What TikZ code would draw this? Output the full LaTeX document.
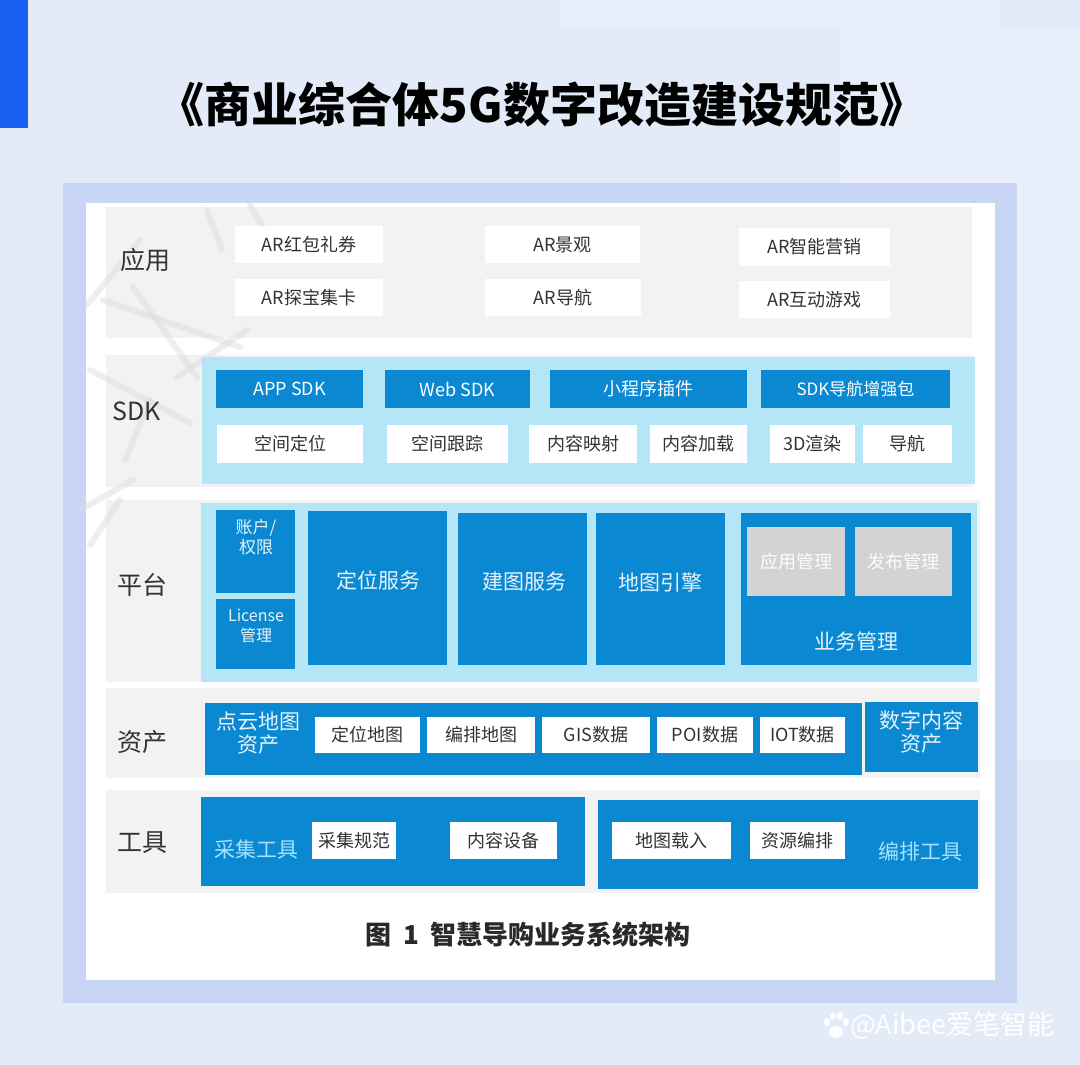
\documentclass[tikz,border=0pt]{standalone}
\usepackage{fontspec}
\setmainfont{Noto Sans CJK SC}
\definecolor{bg}{HTML}{E3EAF8}
\definecolor{bgl}{HTML}{E9EFFA}
\definecolor{bar}{HTML}{1A5EF2}
\definecolor{frame}{HTML}{C8D5F4}
\definecolor{rowg}{HTML}{F2F2F2}
\definecolor{lblue}{HTML}{B5E6F8}
\definecolor{blu}{HTML}{0A88D2}
\definecolor{gbox}{HTML}{D3D3D3}
\definecolor{txt}{HTML}{333333}
\definecolor{cyantxt}{HTML}{A6E2FF}
\definecolor{sketch}{HTML}{DADADA}
% \bx{style}{name}{x1}{y1}{x2}{y2}{text}
\newcommand\bx[7]{\node[#1, minimum width={(#5)-(#3)}, minimum height={(#6)-(#4)}] (#2) at ({((#3)+(#5))/2},{((#4)+(#6))/2}) {#7};}
\begin{document}
\begin{tikzpicture}[x=1pt,y=-1pt,
  box/.style={inner sep=0pt, outer sep=0pt, draw=none},
  rowbox/.style={box, fill=rowg},
  lbbox/.style={box, fill=lblue},
  wbox/.style={box, fill=white, text=txt, font=\fontsize{18}{21}\selectfont},
  bbox/.style={box, fill=blu, text=white, font=\fontsize{18}{21}\selectfont},
  gb/.style={box, fill=gbox, text=white!94!gbox, font=\fontsize{18}{20}\selectfont},
  lab/.style={inner sep=0pt, text=txt, font=\fontsize{25}{28}\selectfont},
  btxt/.style={inner sep=0pt, text=white!90!blu, font=\fontsize{21}{25}\selectfont, align=center},
  ]
\useasboundingbox (0,0) rectangle (1080,1065);
% background
\fill[bg] (0,0) rectangle (1080,1065);
\fill[bgl] (840,30) rectangle (1080,760);
\fill[bgl!60!bg] (560,0) -- (1000,0) -- (1000,30) -- (560,30) -- cycle;
\fill[bar] (0,0) rectangle (28,128);
% title
\node[inner sep=0pt, text=black, font=\fontsize{47}{52}\selectfont\bfseries] (title) at (542,105) {《商业综合体5G数字改造建设规范》};
% frame and panel
\fill[frame] (63,183) rectangle (1017,1003);
\fill[white] (86,203) rectangle (995,980);
% rows
\bx{rowbox}{rowapp}{106}{207}{972}{338}{}
\bx{rowbox}{rowsdk}{106}{355}{972}{487}{}
\bx{rowbox}{rowplat}{106}{500}{980}{682}{}
\bx{rowbox}{rowasset}{106}{688}{980}{778}{}
\bx{rowbox}{rowtool}{106}{790}{980}{893}{}
% faint sketch strokes
\begin{scope}[draw=sketch, opacity=0.45, line width=6pt, line cap=round]
\draw (87,305) -- (140,240);
\draw (103,300) -- (240,347);
\draw (207,210) -- (222,250);
\draw (250,205) -- (262,225);
\draw (90,370) -- (190,423);
\draw (133,287) -- (197,377);
\draw (177,377) -- (247,330);
\draw (150,400) -- (125,460);
\draw (80,510) -- (133,480);
\draw (90,545) -- (120,500);
\end{scope}
% ===== row: 应用
\node[lab] (lapp) at (145,260) {应用};
\bx{wbox}{a1}{235}{226}{383}{263}{AR红包礼券}
\bx{wbox}{a2}{235}{279}{383}{316}{AR探宝集卡}
\bx{wbox}{a3}{485}{226}{640}{263}{AR景观}
\bx{wbox}{a4}{485}{279}{641}{316}{AR导航}
\bx{wbox}{a5}{739}{228}{890}{266}{AR智能营销}
\bx{wbox}{a6}{739}{281}{890}{318}{AR互动游戏}
% ===== row: SDK
\node[lab] (lsdk) at (137,411) {SDK};
\bx{lbbox}{sdkbg}{202}{357}{975}{484}{}
\bx{bbox}{s1}{216}{370}{363}{408}{APP SDK}
\bx{bbox}{s2}{385}{370}{530}{408}{Web SDK}
\bx{bbox}{s3}{550}{370}{747}{408}{小程序插件}
\bx{bbox, font=\fontsize{17}{20}\selectfont}{s4}{761}{370}{950}{408}{SDK导航增强包}
\bx{wbox}{s5}{217}{425}{363}{463}{空间定位}
\bx{wbox}{s6}{387}{425}{508}{463}{空间跟踪}
\bx{wbox}{s7}{529}{425}{637}{463}{内容映射}
\bx{wbox}{s8}{650}{425}{747}{463}{内容加载}
\bx{wbox}{s9}{770}{425}{855}{463}{3D渲染}
\bx{wbox}{s10}{863}{425}{952}{463}{导航}
% ===== row: 平台
\node[lab] (lplat) at (142,585) {平台};
\bx{lbbox}{platbg}{201}{503}{977}{682}{}
\bx{bbox}{p1}{216}{510}{295}{593}{}
\node[btxt, font=\fontsize{17}{20}\selectfont] (p1t) at (256,537) {账户/\\权限};
\bx{bbox}{p2}{216}{599}{295}{669}{}
\node[btxt, font=\fontsize{16}{20}\selectfont] (p2t) at (256,626) {License\\管理};
\bx{bbox}{p3}{308}{511}{447}{665}{}
\node[btxt] (p3t) at (378,580) {定位服务};
\bx{bbox}{p4}{458}{513}{587}{665}{}
\node[btxt] (p4t) at (524,582) {建图服务};
\bx{bbox}{p5}{596}{513}{725}{665}{}
\node[btxt] (p5t) at (660,582) {地图引擎};
\bx{bbox}{p6}{741}{513}{971}{665}{}
\bx{gb}{p7}{747}{527}{845}{596}{应用管理}
\bx{gb}{p8}{855}{527}{952}{596}{发布管理}
\node[btxt] (p6t) at (856,641) {业务管理};
% ===== row: 资产
\node[lab] (lasset) at (142,742) {资产};
\bx{bbox}{z0}{205}{703}{862}{775}{}
\node[btxt, font=\fontsize{21}{23}\selectfont] (z0t) at (258,733) {点云地图\\资产};
\bx{wbox}{z1}{315}{717}{420}{753}{定位地图}
\bx{wbox}{z2}{427}{717}{535}{753}{编排地图}
\bx{wbox}{z3}{542}{717}{650}{753}{GIS数据}
\bx{wbox}{z4}{657}{717}{753}{753}{POI数据}
\bx{wbox}{z5}{760}{717}{845}{753}{IOT数据}
\bx{bbox}{z6}{865}{702}{978}{772}{}
\node[btxt, font=\fontsize{21}{23}\selectfont] (z6t) at (921,732) {数字内容\\资产};
% ===== row: 工具
\node[lab] (ltool) at (142,843) {工具};
\bx{bbox}{t0}{201}{797}{585}{886}{}
\node[btxt, text=cyantxt] (t0t) at (256,849) {采集工具};
\bx{wbox}{t1}{312}{822}{396}{859}{采集规范}
\bx{wbox}{t2}{450}{822}{557}{859}{内容设备}
\bx{bbox}{t3}{598}{800}{978}{889}{}
\bx{wbox}{t4}{612}{822}{731}{859}{地图载入}
\bx{wbox}{t5}{750}{822}{845}{859}{资源编排}
\node[btxt, text=cyantxt] (t3t) at (920,851) {编排工具};
% caption
\node[inner sep=0pt, text=txt!80!black, font=\fontsize{26}{30}\selectfont\bfseries] (cap) at (528,935) {图\ \ 1\ \ 智慧导购业务系统架构};
% watermark
\begin{scope}[fill=white]
\fill (836,1032) ellipse (7 and 6);
\fill (827,1022) ellipse (3 and 4);
\fill (833,1016) ellipse (3 and 4);
\fill (840,1016) ellipse (3 and 4);
\fill (846,1022) ellipse (3 and 4);
\end{scope}
\node[inner sep=0pt, anchor=west, text=white, font=\fontsize{27}{30}\selectfont] (wm) at (850,1025) {@Aibee爱笔智能};
\end{tikzpicture}
\end{document}
